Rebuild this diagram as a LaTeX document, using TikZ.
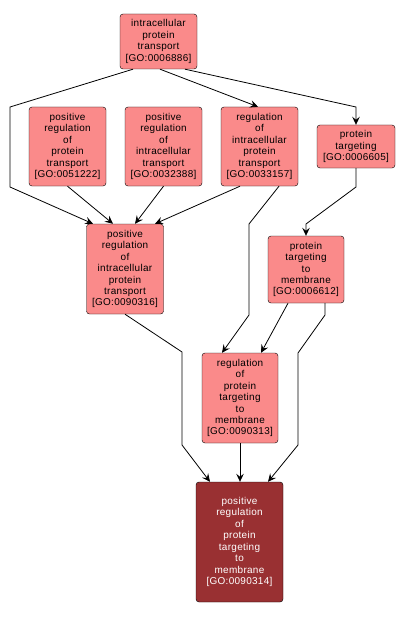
\documentclass[tikz,border=0pt]{standalone}
\usepackage{fontspec}
\usetikzlibrary{arrows.meta}
\newfontfamily\gofont[LetterSpace=3]{Liberation Sans}
\definecolor{termfill}{RGB}{250,138,138}
\definecolor{termdark}{RGB}{153,48,50}
\tikzset{
  goterm/.style={draw=black, fill=termfill, rounded corners=3bp, align=center,
    inner sep=0pt, minimum width=77bp, font=\gofont\fontsize{10}{11.5}\selectfont},
  goleaf/.style={goterm, fill=termdark, text=white},
  golink/.style={-{Stealth[length=8bp,width=7.5bp,inset=3bp]}, line width=0.8bp},
}
\begin{document}
\begin{tikzpicture}[x=1bp, y=-1bp]
        \useasboundingbox (0, 0) rectangle (405, 617);
        \node[goterm, minimum height=55bp] (ipt) at (158.5, 41.5) {intracellular\\protein\\transport\\{[GO:0006886]}};
        \node[goterm, minimum height=79bp] (prpt) at (67.5, 146.5) {positive\\regulation\\of\\protein\\transport\\{[GO:0051222]}};
        \node[goterm, minimum height=79bp] (prit) at (163.5, 146.5) {positive\\regulation\\of\\intracellular\\transport\\{[GO:0032388]}};
        \node[goterm, minimum height=79bp] (ript) at (259.5, 146.5) {regulation\\of\\intracellular\\protein\\transport\\{[GO:0033157]}};
        \node[goterm, minimum height=43bp, minimum width=78bp] (pt) at (356, 146.5) {protein\\targeting\\{[GO:0006605]}};
        \node[goterm, minimum height=90bp] (pript) at (125, 269) {positive\\regulation\\of\\intracellular\\protein\\transport\\{[GO:0090316]}};
        \node[goterm, minimum height=67bp, minimum width=76bp] (ptm) at (306, 269.5) {protein\\targeting\\to\\membrane\\{[GO:0006612]}};
        \node[goterm, minimum height=90bp, minimum width=76bp] (rptm) at (240, 398) {regulation\\of\\protein\\targeting\\to\\membrane\\{[GO:0090313]}};
        \node[goleaf, minimum height=120bp, minimum width=87bp] (prptm) at (239.5, 542) {positive\\regulation\\of\\protein\\targeting\\to\\membrane\\{[GO:0090314]}};

        % edges from intracellular protein transport
        \draw[golink] ([xshift=-25.5bp]ipt.south) -- (10, 107) -- (10, 187) -- ([xshift=-32bp]pript.north);
        \draw[golink] ([xshift=1.5bp]ipt.south) -- ([xshift=-1.5bp]ript.north);
        \draw[golink] ([xshift=26.5bp]ipt.south) -- (356, 107) -- (pt.north);
        % into positive regulation of intracellular protein transport
        \draw[golink] (prpt.south) -- ([xshift=-12bp]pript.north);
        \draw[golink] (prit.south) -- ([xshift=10bp]pript.north);
        \draw[golink] ([xshift=-19.5bp]ript.south) -- ([xshift=30bp]pript.north);
        % into regulation of protein targeting to membrane
        \draw[golink] ([xshift=19.5bp]ript.south) -- (249, 224) -- (249, 315) -- ([xshift=-18bp]rptm.north);
        \draw[golink] ([xshift=-18bp]ptm.south) -- ([xshift=21bp]rptm.north);
        \draw[golink] (pt.south) -- (356, 187) -- (306, 224) -- (ptm.north);
        % into positive regulation of protein targeting to membrane
        \draw[golink] (pript.south) -- (182, 352) -- (182, 445) -- ([xshift=-29.5bp]prptm.north);
        \draw[golink] (rptm.south) -- (rptm.south |- prptm.north);
        \draw[golink] ([xshift=19bp]ptm.south) -- (325, 315) -- (298, 353) -- (298, 445) -- ([xshift=28.5bp]prptm.north);

    \end{tikzpicture}
\end{document}
